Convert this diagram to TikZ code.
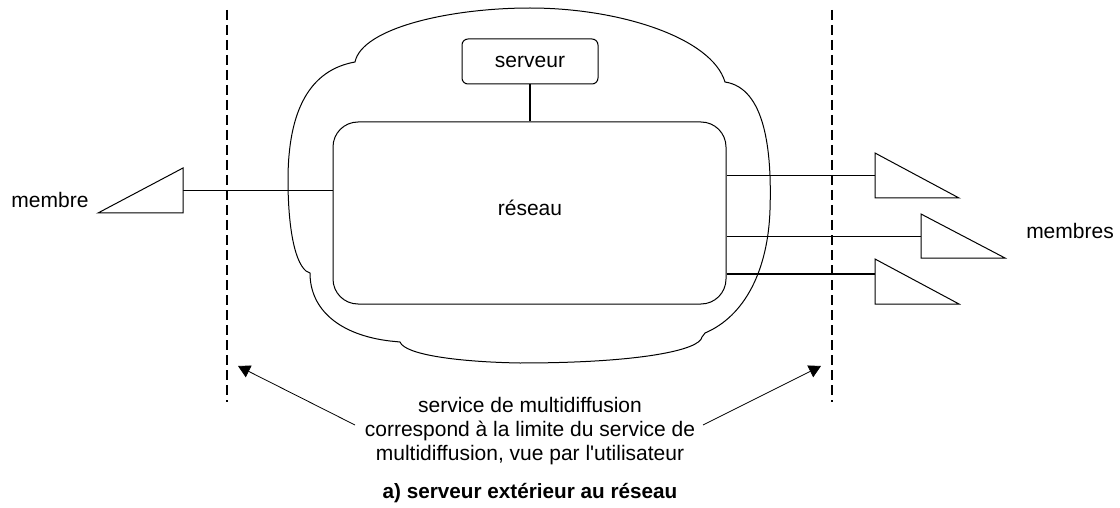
\documentclass[tikz,border=0pt]{standalone}
\usepackage{fontspec}
\setmainfont{Liberation Sans}
\usetikzlibrary{arrows.meta}
\begin{document}
\begin{tikzpicture}[x=1pt,y=-1pt,
  txt/.style={font=\fontsize{21}{24}\selectfont, inner sep=0pt, align=center},
  boxr/.style={draw, line width=1pt, rounded corners=#1, inner sep=0pt},
  thin/.style={line width=1pt},
  thick2/.style={line width=1.6pt},
  border/.style={line width=1.8pt, dash pattern=on 10pt off 5pt},
  memb/.style={draw, line width=1pt, fill=white},
  pointer/.style={line width=0.8pt, -{Triangle[length=12pt,width=13pt]}}
]
\useasboundingbox (0,0) rectangle (1120,508);

% cloud
\draw[thin] (355,62) .. controls (362,28) and (450,8) .. (530,8)
  .. controls (620,8) and (712,38) .. (725,82)
  .. controls (765,88) and (772,150) .. (770,210)
  .. controls (768,270) and (745,316) .. (705,333)
  -- (702,337)
  .. controls (700,350) and (640,363) .. (520,363)
  .. controls (460,362) and (405,355) .. (400,342)
  -- (390,341)
  .. controls (340,335) and (310,310) .. (310,273)
  -- (306,271)
  .. controls (293,260) and (288,220) .. (288,180)
  .. controls (288,110) and (310,70) .. (355,62) -- cycle;

% network and server
\node[boxr=25pt, minimum width=393pt, minimum height=182pt] (reseau) at (529.5,213) {};
\node[txt] (reseautxt) at (530,208) {réseau};
\node[boxr=6pt, minimum width=136pt, minimum height=45pt, txt] (serveur) at (530,61.5) {serveur};
\draw[thick2] (serveur.south) -- (serveur.south |- reseau.north);

% boundaries
\coordinate (dlt) at (227,10);
\coordinate (dlb) at (227,402);
\coordinate (drt) at (832,10);
\coordinate (drb) at (832,402);
\draw[border] (dlt) -- (dlb);
\draw[border] (drt) -- (drb);

% members
\coordinate (m1) at (183,191);
\coordinate (r1) at (875,176);
\coordinate (r2) at (921,236);
\coordinate (r3) at (875,274);
\draw[thin] (m1) -- (m1 -| reseau.west);
\draw[thin] (r1 -| reseau.east) -- (r1);
\draw[thin] (r2 -| reseau.east) -- (r2);
\draw[thick2] (r3 -| reseau.east) -- (r3);
\draw[memb] (98,213) -- (183,168) -- (183,213) -- cycle;
\draw[memb] (875,153) -- (875,198) -- (959,198) -- cycle;
\draw[memb] (921,214) -- (921,258) -- (1005,258) -- cycle;
\draw[memb] (875,259) -- (875,304) -- (959,304) -- cycle;
\node[txt] (membre) at (50,200) {membre};
\node[txt] (membres) at (1070,231) {membres};

% description
\node[txt] (desc) at (530,431) {service de multidiffusion\\correspond à la limite du service de\\multidiffusion, vue par l\textquotesingle utilisateur};
\coordinate (al) at (355,425);
\coordinate (ar) at (703,425);
\coordinate (tl) at (238,366);
\coordinate (tr) at (821,366);
\draw[pointer] (al) -- (tl);
\draw[pointer] (ar) -- (tr);
\node[txt, font=\fontsize{20.7}{24}\selectfont\bfseries] (caption) at (530,493) {a) serveur extérieur au réseau};
\end{tikzpicture}
\end{document}
